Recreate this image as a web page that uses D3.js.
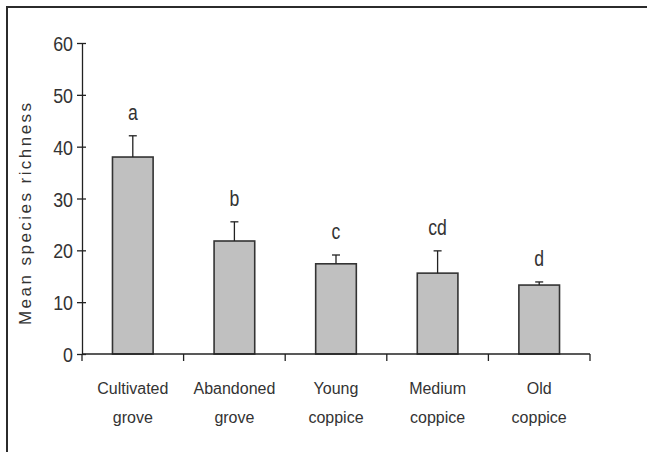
<!DOCTYPE html>
<html>
<head>
<meta charset="utf-8">
<script src="https://cdn.jsdelivr.net/npm/d3@7"></script>
<style>
  body { margin: 0; background: #fff; }
  svg text { font-family: "Liberation Sans", Arial, sans-serif; fill: #222; }
</style>
</head>
<body>
<svg id="chart" width="647" height="452"></svg>
<script>
"use strict";

// habitat categories, two-line labels
const categories = [
  ["Cultivated", "grove"],
  ["Abandoned", "grove"],
  ["Young", "coppice"],
  ["Medium", "coppice"],
  ["Old", "coppice"]
];
const means = [38.0, 21.8, 17.4, 15.6, 13.3];
const errors = [4.1, 3.7, 1.7, 4.3, 0.6];
const letters = ["a", "b", "c", "cd", "d"];
const yTicks = [0, 10, 20, 30, 40, 50, 60];

(function () {
  let svg = d3.select('#chart');

  // frame (top and left only)
  svg.append('line')
    .attr('x1', 6).attr('x2', 647).attr('y1', 7).attr('y2', 7)
    .style('stroke', '#2b2b2b').style('stroke-width', 2);
  svg.append('line')
    .attr('x1', 7).attr('x2', 7).attr('y1', 6).attr('y2', 452)
    .style('stroke', '#2b2b2b').style('stroke-width', 2);

  let left = 82, right = 590, top = 43, bottom = 354;
  let idx = d3.range(categories.length);

  let x = d3.scaleBand()
    .domain(idx)
    .range([left, right])
    .paddingInner(0).paddingOuter(0);

  let y = d3.scaleLinear()
    .domain([0, 60])
    .range([bottom, top]);

  let barW = x.bandwidth() * 0.4;
  let cx = i => x(i) + x.bandwidth() / 2;

  // bars
  svg.selectAll('.bar').data(means).enter().append('rect')
    .attr('class', 'bar')
    .attr('x', (d, i) => cx(i) - barW / 2)
    .attr('y', d => y(d))
    .attr('width', barW)
    .attr('height', d => y(0) - y(d))
    .style('fill', '#c0c0c0')
    .style('stroke', '#333')
    .style('stroke-width', 1.6);

  // error bars (upper only)
  let eb = svg.selectAll('.err').data(means).enter().append('g')
    .attr('class', 'err');
  eb.append('line')
    .attr('x1', (d, i) => cx(i))
    .attr('x2', (d, i) => cx(i))
    .attr('y1', d => y(d))
    .attr('y2', (d, i) => y(d + errors[i]))
    .style('stroke', '#222').style('stroke-width', 1.3);
  eb.append('line')
    .attr('x1', (d, i) => cx(i) - 4)
    .attr('x2', (d, i) => cx(i) + 4)
    .attr('y1', (d, i) => y(d + errors[i]))
    .attr('y2', (d, i) => y(d + errors[i]))
    .style('stroke', '#222').style('stroke-width', 1.3);

  // significance letters
  svg.selectAll('.letter').data(means).enter().append('text')
    .attr('class', 'letter')
    .attr('transform', (d, i) => 'translate(' + cx(i) + ',' + (y(d + errors[i]) - 16) + ') scale(0.8,1)')
    .attr('text-anchor', 'middle')
    .style('font-size', '22px')
    .style('fill', '#333')
    .text((d, i) => letters[i]);

  // y axis
  let yAxis = d3.axisLeft(y).tickValues(yTicks).tickSize(0).tickPadding(0);
  let gy = svg.append('g')
    .attr('transform', 'translate(' + left + ',0)')
    .call(yAxis);
  gy.select('.domain').style('stroke', '#222').style('stroke-width', 1.3);
  gy.selectAll('.tick text').remove();
  gy.selectAll('.tick').append('line')
    .attr('x1', -5).attr('x2', 4)
    .style('stroke', '#222').style('stroke-width', 1.3);
  gy.selectAll('.tick').append('text')
    .attr('transform', 'translate(-9,7.5) scale(0.85,1)')
    .attr('text-anchor', 'end')
    .style('font-size', '21px')
    .style('fill', '#333')
    .text(d => d);

  // x axis with ticks at category boundaries
  let gx = svg.append('g');
  gx.append('line')
    .attr('x1', left).attr('x2', right)
    .attr('y1', bottom).attr('y2', bottom)
    .style('stroke', '#222').style('stroke-width', 1.3);
  gx.selectAll('.xt').data(d3.range(categories.length + 1)).enter().append('line')
    .attr('class', 'xt')
    .attr('x1', d => left + d * x.step())
    .attr('x2', d => left + d * x.step())
    .attr('y1', bottom).attr('y2', bottom + 7)
    .style('stroke', '#222').style('stroke-width', 1.3);

  let lab = svg.selectAll('.cat').data(categories).enter().append('text')
    .attr('class', 'cat')
    .attr('text-anchor', 'middle')
    .style('font-size', '16px')
    .style('fill', '#333');
  lab.append('tspan')
    .attr('x', (d, i) => cx(i))
    .attr('y', 394)
    .text(d => d[0]);
  lab.append('tspan')
    .attr('x', (d, i) => cx(i))
    .attr('y', 423)
    .text(d => d[1]);

  // y axis title
  svg.append('text')
    .attr('transform', 'translate(31,214) rotate(-90)')
    .attr('text-anchor', 'middle')
    .attr('textLength', 222)
    .attr('lengthAdjust', 'spacing')
    .style('font-size', '17px')
    .style('fill', '#333')
    .text('Mean species richness');
})();
</script>
</body>
</html>
